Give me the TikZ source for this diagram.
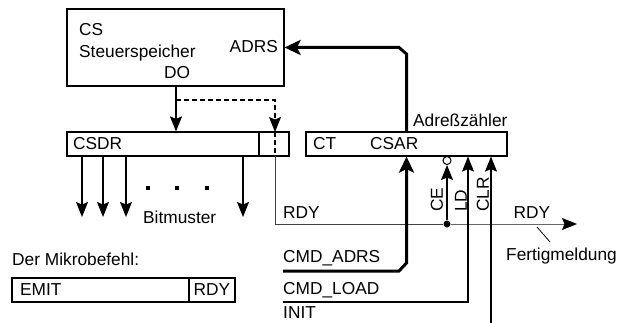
\documentclass[tikz,border=0pt]{standalone}
\usepackage{fontspec}
\setmainfont{Liberation Sans}
\usetikzlibrary{arrows.meta}
\tikzset{
  box/.style={draw,line width=1.2pt,inner sep=0pt},
  tip/.style={-{Stealth[length=15pt,width=12pt,inset=2.5pt,black]}},
  sig/.style={line width=1.2pt,tip},
  bus/.style={line width=3pt,-{Stealth[length=16pt,width=15pt,inset=3.5pt]}},
  rdyline/.style={line width=1pt,black!60},
  lbl/.style={inner sep=0pt,anchor=west}
}
\begin{document}
\begin{tikzpicture}[x=1pt,y=-1pt,every node/.style={font=\fontsize{17.3}{19}\selectfont}]
\useasboundingbox (0,0) rectangle (618,323);
% boxes
\node[box,minimum width=217,minimum height=77] (cs) at (175.5,47.5) {};
\node[box,minimum width=222,minimum height=24] (csdr) at (178,144) {};
\node[box,minimum width=201,minimum height=24] (ct) at (406.5,144) {};
\node[box,minimum width=223,minimum height=24] (emit) at (123.5,290) {};
\draw[line width=1.2pt] (259,132) -- (259,156);
\draw[line width=1.2pt] (189,278) -- (189,302);
% texts
\node[lbl] (cstxt) at (79,30) {CS};
\node[lbl] (cstitle) at (79,53) {Steuerspeicher};
\node[lbl,anchor=east] (adrs) at (278,47) {ADRS};
\node[inner sep=0pt] (do) at (177,73) {DO};
\node[lbl] (csdrtxt) at (73,144) {CSDR};
\node[lbl] (cttxt) at (313,144) {CT};
\node[lbl] (csar) at (370,144) {CSAR};
\node[lbl] (adrz) at (413,120) {Adreßzähler};
\node[lbl] (bitm) at (143,217) {Bitmuster};
\node[lbl] (rdyin) at (283,213) {RDY};
\node[lbl,rotate=90] (ce) at (437,212) {CE};
\node[lbl,rotate=90] (ld) at (461,212) {LD};
\node[lbl,rotate=90] (clr) at (483,212) {CLR};
\node[inner sep=0pt] (rdyo) at (532,213) {RDY};
\node[lbl] (fertig) at (506,256) {Fertigmeldung};
\node[lbl] (cmdadrs) at (283,258) {CMD\_ADRS};
\node[lbl] (cmdload) at (283,290) {CMD\_LOAD};
\node[lbl] (init) at (283,313) {INIT};
\node[lbl] (mikro) at (12,259) {Der Mikrobefehl:};
\node[lbl] (emittxt) at (20,290) {EMIT};
\node[inner sep=0pt] (rdybit) at (212,290) {RDY};
% data output
\coordinate (dobranch) at (176,100);
\draw[sig,line width=2.2pt] (cs.south -| dobranch) -- (csdr.north -| dobranch);
\draw[sig,dash pattern=on 5pt off 3pt] (dobranch) -| (275,132);
\draw[line width=1.2pt,dash pattern=on 5pt off 3pt] (275,132) -- (275,156);
% bit lines
\foreach \x in {82,103,126,243}
  \draw[sig] (\x,156) -- (\x,217);
\foreach \x in {148,177,207}
  \fill (\x-2,186) rectangle (\x+2,190);
% ready path
\node[circle,fill,inner sep=0pt,minimum size=7pt] (cedot) at (447,224) {};
\node[circle,draw,line width=1pt,fill=white,inner sep=0pt,minimum size=8pt] (ceinv) at (447,160.5) {};
\coordinate (rdyend) at (577,224);
\draw[rdyline,black!75] (275,156) |- (cedot);
\draw[rdyline,tip] (cedot) -- (rdyend);
\draw[line width=0.8pt] (537,227) -- (550,242);
\draw[sig] (cedot) -- (ceinv.south);
% counter address
\draw[bus] (ct.north) -- (406.5,54) -- (399,47.5) -- (cs.east);
\draw[bus] (283,271) -- (399,271) -- (406.5,263) -- (ct.south);
\draw[sig] (283,302) -- (468,302) -- (ct.south -| 468,0);
\draw[sig] (491,323) -- (ct.south -| 491,0);
\end{tikzpicture}
\end{document}
